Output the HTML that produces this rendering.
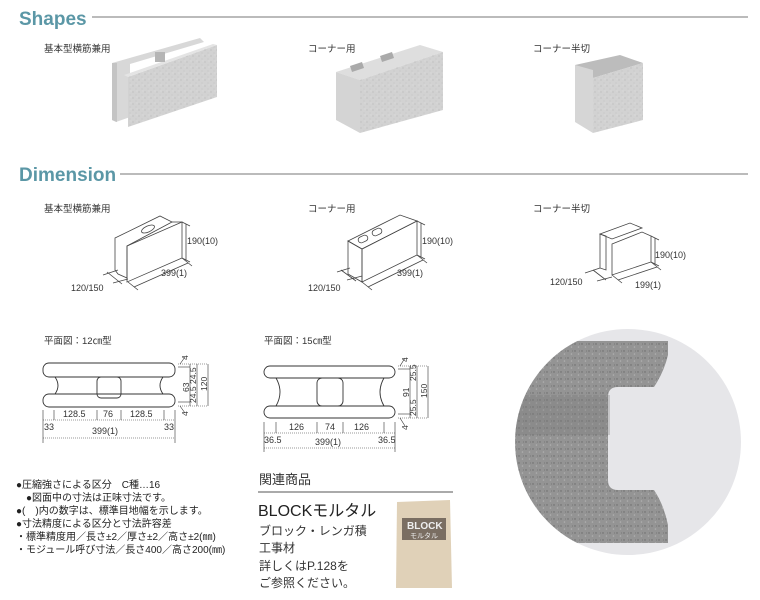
<!DOCTYPE html>
<html><head><meta charset="utf-8"><style>
body{margin:0;background:#fff;}
svg{display:block;font-family:"Liberation Sans","Noto Sans CJK JP",sans-serif;}
.h{font-weight:bold;fill:#5b97a6;font-size:19px;}
.l{font-size:9.5px;fill:#333;}
.d{font-size:9px;fill:#333;}
.t{font-size:10px;fill:#222;}
</style></head><body>
<svg width="760" height="600" viewBox="0 0 760 600" xmlns="http://www.w3.org/2000/svg">
<defs>
<clipPath id="cc"><circle cx="628" cy="442" r="113"/></clipPath>
<pattern id="spk" width="6" height="6" patternUnits="userSpaceOnUse"><rect width="6" height="6" fill="#d2d2d2"/><circle cx="1" cy="2" r="0.5" fill="#a5a5a5"/><circle cx="4" cy="5" r="0.4" fill="#b0b0b0"/><circle cx="5" cy="1" r="0.4" fill="#ececec"/></pattern>
<pattern id="spk2" width="7" height="7" patternUnits="userSpaceOnUse"><rect width="7" height="7" fill="#949494"/><circle cx="1" cy="1" r="0.7" fill="#6a6a6a"/><circle cx="4.5" cy="4" r="0.8" fill="#b0b0b0"/><circle cx="5.5" cy="1" r="0.4" fill="#555"/></pattern>
</defs>
<text x="19" y="25" class="h">Shapes</text>
<line x1="92" y1="17" x2="748" y2="17" stroke="#777" stroke-width="1"/>
<text x="19" y="181" class="h">Dimension</text>
<line x1="120" y1="174" x2="748" y2="174" stroke="#777" stroke-width="1"/>

<text x="44" y="52" class="l">基本型横筋兼用</text>
<text x="308" y="52" class="l">コーナー用</text>
<text x="533" y="52" class="l">コーナー半切</text>

<!-- photo block 1 -->
<polygon points="112,63 200,38 204,42 130,64 130,117 116,122 112,120" fill="#d8d8d8"/>
<polygon points="112,63 117,63 117,122 112,120" fill="#c4c4c4"/>
<polygon points="128,77 217,45 217,97 128,127" fill="url(#spk)"/>
<polygon points="128,77 217,45 213,44 124,75" fill="#e4e4e4"/>
<rect x="155" y="52" width="10" height="10" fill="#b5b5b5"/>
<!-- photo block 2 -->
<polygon points="336,72 420,45 443,52 360,80" fill="#dedede"/>
<polygon points="350,66 362,62 364,68 352,72" fill="#aaa"/>
<polygon points="380,56 392,52 394,58 382,62" fill="#aaa"/>
<polygon points="336,72 360,80 360,133 336,120" fill="#d4d4d4"/>
<polygon points="360,80 443,52 443,110 360,133" fill="url(#spk)"/>
<!-- photo block 3 -->
<polygon points="575,65 620,55 643,63 593,78" fill="#bcbcbc"/>
<polygon points="575,65 593,70 593,133 575,122" fill="#d6d6d6"/>
<polygon points="593,78 643,63 643,120 593,133" fill="url(#spk)"/>

<text x="44" y="212" class="l">基本型横筋兼用</text>
<text x="308" y="212" class="l">コーナー用</text>
<text x="533" y="212" class="l">コーナー半切</text>

<g fill="none" stroke="#444" stroke-width="0.8">
<polygon points="115,238 160,216 172,222 127,246 127,278 118,274 115,270"/>
<polygon points="127,246 182,222 182,258 127,282"/>
<line x1="172" y1="222" x2="182" y2="222"/>
<ellipse cx="148" cy="229" rx="7" ry="3" transform="rotate(-25 148 229)"/>
<line x1="182" y1="222" x2="190" y2="226"/><line x1="182" y1="258" x2="190" y2="262"/><line x1="186" y1="224" x2="186" y2="260"/>
<line x1="128" y1="282" x2="138" y2="290"/><line x1="182" y1="258" x2="192" y2="266"/><line x1="134" y1="287" x2="188" y2="263"/>
<line x1="103" y1="275" x2="118" y2="270"/><line x1="113" y1="283" x2="128" y2="279"/><line x1="107" y1="272" x2="122" y2="284"/>
<polygon points="348,241 400,215 417,221 362,249"/>
<polygon points="348,241 362,249 362,282 348,274"/>
<polygon points="362,249 417,221 417,255 362,282"/>
<rect x="358" y="236" width="10" height="6" rx="3" transform="rotate(-25 363 239)"/>
<rect x="372" y="229" width="10" height="6" rx="3" transform="rotate(-25 377 232)"/>
<line x1="417" y1="221" x2="425" y2="225"/><line x1="417" y1="255" x2="425" y2="259"/><line x1="421" y1="223" x2="421" y2="257"/>
<line x1="362" y1="282" x2="372" y2="290"/><line x1="417" y1="255" x2="427" y2="263"/><line x1="368" y1="287" x2="423" y2="260"/>
<line x1="337" y1="272" x2="350" y2="268"/><line x1="347" y1="280" x2="362" y2="276"/><line x1="341" y1="270" x2="356" y2="281"/>
<polygon points="600,234 630,223 642,228 612,239"/>
<polygon points="600,234 606,236 606,270 600,268"/>
<polygon points="612,244 642,232 651,236 651,262 612,275"/>
<line x1="651" y1="236" x2="659" y2="240"/><line x1="651" y1="262" x2="659" y2="266"/><line x1="655" y1="238" x2="655" y2="264"/>
<line x1="612" y1="275" x2="622" y2="283"/><line x1="651" y1="262" x2="661" y2="270"/><line x1="618" y1="280" x2="657" y2="267"/>
<line x1="585" y1="273" x2="600" y2="268"/><line x1="597" y1="281" x2="612" y2="277"/><line x1="593" y1="270" x2="606" y2="280"/>
</g>
<text x="187" y="244" class="d">190(10)</text>
<text x="161" y="276" class="d">399(1)</text>
<text x="71" y="291" class="d">120/150</text>
<text x="422" y="244" class="d">190(10)</text>
<text x="397" y="276" class="d">399(1)</text>
<text x="308" y="291" class="d">120/150</text>
<text x="655" y="258" class="d">190(10)</text>
<text x="635" y="288" class="d">199(1)</text>
<text x="550" y="285" class="d">120/150</text>

<text x="44" y="344" class="l">平面図：12㎝型</text>
<text x="264" y="344" class="l">平面図：15㎝型</text>
<g fill="#fff" stroke="#333" stroke-width="0.9">
<path d="M55,377 Q61,385.5 55,394 M163,377 Q157,385.5 163,394" fill="none"/>
<rect x="43" y="363" width="132" height="14" rx="6"/>
<rect x="43" y="394" width="132" height="13" rx="6"/>
<rect x="97" y="377" width="24" height="21" rx="4" fill="none"/>
<path d="M276,378 Q284,392 276,406 M384,378 Q376,392 384,406" fill="none"/>
<rect x="264" y="366" width="131" height="12" rx="6"/>
<rect x="264" y="406" width="131" height="12" rx="6"/>
<rect x="317" y="378" width="26" height="28" rx="5" fill="none"/>
</g>
<g stroke="#333" stroke-width="0.6" fill="none">
<line x1="43" y1="410" x2="43" y2="443"/><line x1="175" y1="410" x2="175" y2="443"/>
<line x1="54" y1="410" x2="54" y2="420"/><line x1="97" y1="410" x2="97" y2="420"/><line x1="121" y1="410" x2="121" y2="420"/><line x1="164" y1="410" x2="164" y2="420"/>
<line x1="43" y1="420" x2="175" y2="420" stroke-dasharray="1,1"/><line x1="43" y1="438" x2="175" y2="438" stroke-dasharray="1,1"/>
<line x1="178" y1="364" x2="208" y2="364" stroke-dasharray="1,1"/><line x1="178" y1="406" x2="208" y2="406" stroke-dasharray="1,1"/>
<line x1="178" y1="367" x2="190" y2="367"/><line x1="178" y1="402" x2="190" y2="402"/>
<line x1="190" y1="364" x2="190" y2="406"/><line x1="197" y1="364" x2="197" y2="406"/><line x1="208" y1="364" x2="208" y2="406"/>
<line x1="180" y1="364" x2="185" y2="357"/><line x1="180" y1="406" x2="185" y2="413"/>
<line x1="264" y1="422" x2="264" y2="452"/><line x1="395" y1="422" x2="395" y2="452"/>
<line x1="276" y1="422" x2="276" y2="433"/><line x1="317" y1="422" x2="317" y2="433"/><line x1="343" y1="422" x2="343" y2="433"/><line x1="384" y1="422" x2="384" y2="433"/>
<line x1="264" y1="433" x2="395" y2="433" stroke-dasharray="1,1"/><line x1="264" y1="448" x2="395" y2="448" stroke-dasharray="1,1"/>
<line x1="398" y1="366" x2="428" y2="366" stroke-dasharray="1,1"/><line x1="398" y1="418" x2="428" y2="418" stroke-dasharray="1,1"/>
<line x1="398" y1="369" x2="410" y2="369"/><line x1="398" y1="414" x2="410" y2="414"/>
<line x1="410" y1="366" x2="410" y2="418"/><line x1="417" y1="366" x2="417" y2="418"/><line x1="428" y1="366" x2="428" y2="418"/>
<line x1="400" y1="366" x2="405" y2="358"/><line x1="400" y1="418" x2="405" y2="426"/>
</g>
<text x="63" y="417" class="d">128.5</text><text x="103" y="417" class="d">76</text><text x="130" y="417" class="d">128.5</text>
<text x="44" y="430" class="d">33</text><text x="164" y="430" class="d">33</text><text x="92" y="434" class="d">399(1)</text>
<text x="289" y="430" class="d">126</text><text x="325" y="430" class="d">74</text><text x="354" y="430" class="d">126</text>
<text x="264" y="443" class="d">36.5</text><text x="378" y="443" class="d">36.5</text><text x="315" y="445" class="d">399(1)</text>
<g font-size="8.5" fill="#333">
<text transform="translate(188,360) rotate(-90)">4</text>
<text transform="translate(188,416) rotate(-90)">4</text>
<text transform="translate(189,392) rotate(-90)">63</text>
<text transform="translate(196,384) rotate(-90)">24.5</text>
<text transform="translate(196,403) rotate(-90)">24.5</text>
<text transform="translate(207,391) rotate(-90)">120</text>
<text transform="translate(408,362) rotate(-90)">4</text>
<text transform="translate(408,430) rotate(-90)">4</text>
<text transform="translate(409,397) rotate(-90)">91</text>
<text transform="translate(416,381) rotate(-90)">25.5</text>
<text transform="translate(416,416) rotate(-90)">25.5</text>
<text transform="translate(427,398) rotate(-90)">150</text>
</g>

<text x="16" y="488" class="t" font-size="9.5">●圧縮強さによる区分　C種…16</text>
<text x="26" y="501" class="t" font-size="9.5">●図面中の寸法は正味寸法です。</text>
<text x="16" y="514" class="t" font-size="9.5">●(　)内の数字は、標準目地幅を示します。</text>
<text x="16" y="527" class="t" font-size="9.5">●寸法精度による区分と寸法許容差</text>
<text x="16" y="540" class="t" font-size="9.5">・標準精度用／長さ±2／厚さ±2／高さ±2(㎜)</text>
<text x="16" y="553" class="t" font-size="9.5">・モジュール呼び寸法／長さ400／高さ200(㎜)</text>

<text x="259" y="484" font-size="13" fill="#333">関連商品</text>
<line x1="258" y1="492" x2="453" y2="492" stroke="#555" stroke-width="1"/>
<text x="258" y="516" font-size="16" fill="#222">BLOCKモルタル</text>
<text x="259" y="535" font-size="12" fill="#333">ブロック・レンガ積</text>
<text x="259" y="552" font-size="12" fill="#333">工事材</text>
<text x="259" y="570" font-size="12" fill="#333">詳しくはP.128を</text>
<text x="259" y="587" font-size="12" fill="#333">ご参照ください。</text>
<path d="M397,502 L450,500 L452,588 L396,588 Z" fill="#e0d1b8"/>
<rect x="402" y="518" width="44" height="22" fill="#7a6e62"/>
<text x="407" y="529" font-size="10" font-weight="bold" fill="#eee">BLOCK</text>
<text x="410" y="538" font-size="7" fill="#eee">モルタル</text>

<circle cx="628" cy="442" r="113" fill="#e6e6e9"/>
<g clip-path="url(#cc)">
<path d="M500,341 L668,341 L668,355 Q664,372 654,387 L618,387 Q608,387 608,397 L608,480 Q608,490 618,490 L654,490 Q664,505 668,525 L668,543 L500,543 Z" fill="url(#spk2)"/>
<rect x="515" y="395" width="95" height="40" fill="#777" opacity="0.3"/>
</g>
</svg>
</body></html>
